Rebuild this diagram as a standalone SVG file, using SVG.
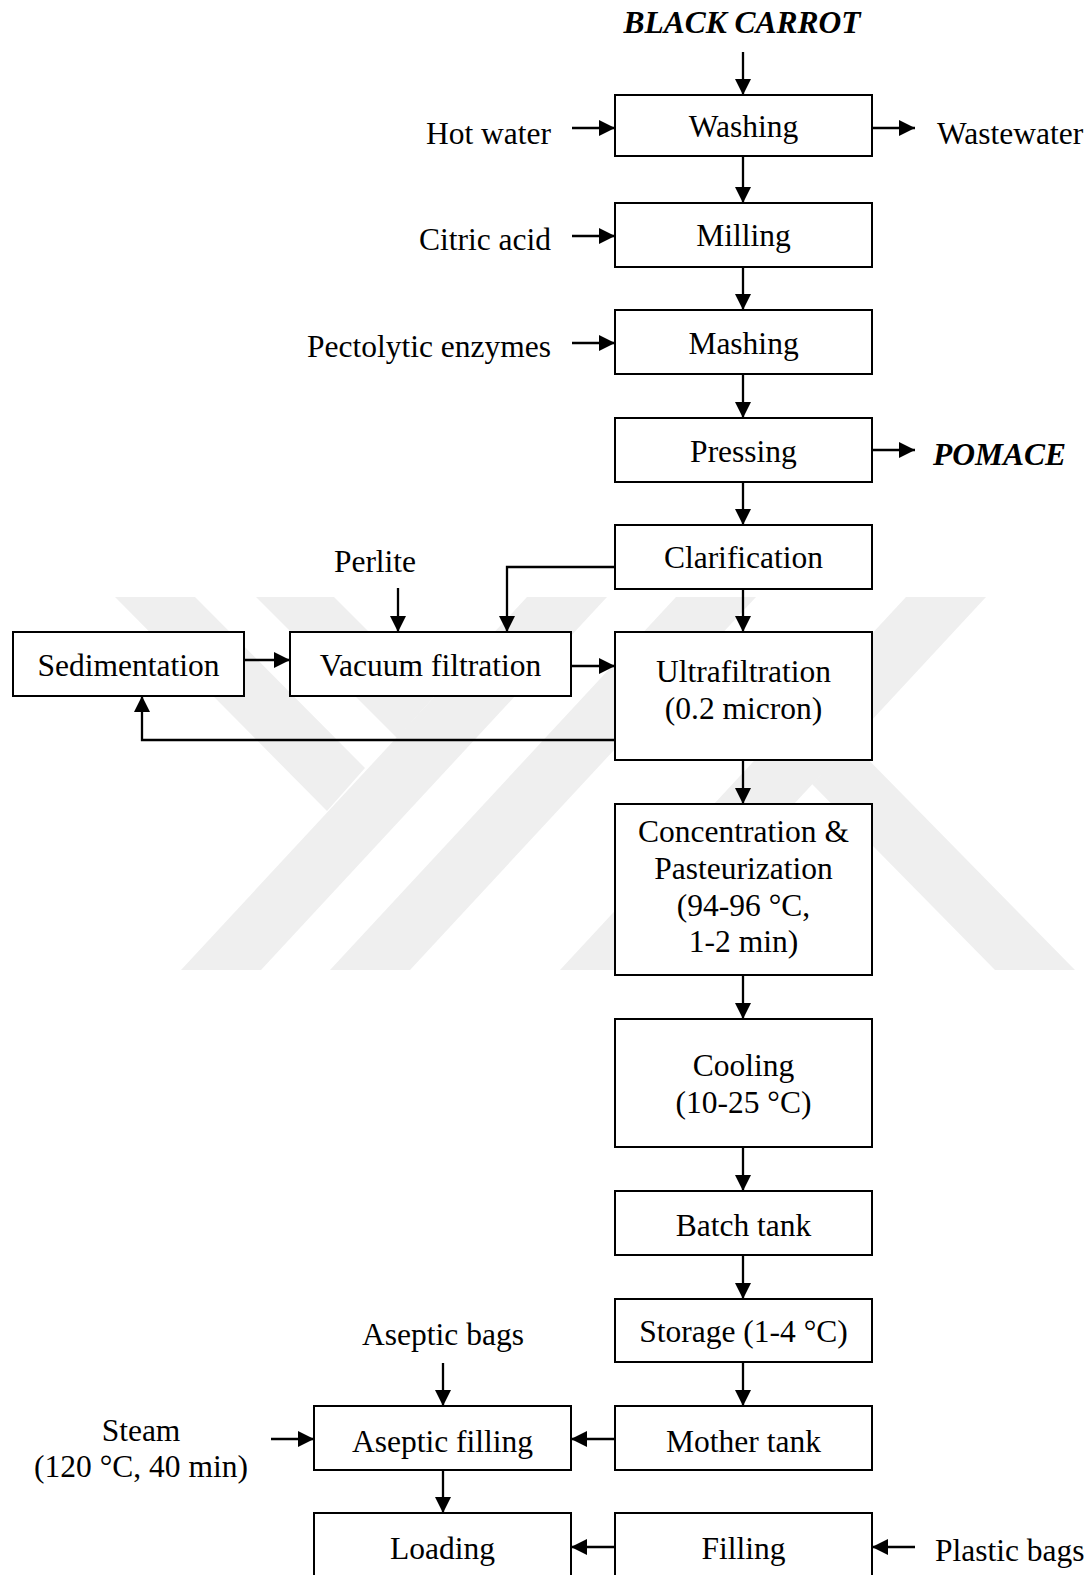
<svg xmlns="http://www.w3.org/2000/svg" width="1092" height="1575" viewBox="0 0 1092 1575">
<style>
  text { font-family: "Liberation Serif", "Times New Roman", serif; font-size: 31.5px; fill: #000; }
  .c { text-anchor: middle; }
  .r { text-anchor: end; }
  .bi { font-weight: bold; font-style: italic; }
  .box { fill: #fff; stroke: #000; stroke-width: 2; }
  .wm { fill: #efefef; }
  #connectors path, #connectors line { stroke: #000; stroke-width: 2.3; fill: none; }
</style>
<defs>
  <marker id="ah" markerUnits="userSpaceOnUse" markerWidth="16" markerHeight="16" viewBox="0 0 16 16" refX="16" refY="8" orient="auto">
    <path d="M0,0 L16,8 L0,16 z" fill="#000"/>
  </marker>
  <clipPath id="wmclip"><rect x="0" y="597" width="1092" height="373"/></clipPath>
</defs>
<rect width="1092" height="1575" fill="#fff"/>
<g id="watermark" clip-path="url(#wmclip)">
  <polygon class="wm" points="527,597 607,597 261,970 181,970"/>
  <polygon class="wm" points="676,597 756,597 410,970 330,970"/>
  <polygon class="wm" points="906,597 986,597 640,970 560,970"/>
  <polygon class="wm" points="115,597 195,597 365,768 327,811"/>
  <polygon class="wm" points="256,597 334,597 434,697 397,738"/>
  <polygon class="wm" points="812,784 851,742 1075,970 995,970"/>
</g>
<g id="connectors">
  <line x1="743" y1="52" x2="743" y2="95" marker-end="url(#ah)"/>
  <line x1="572" y1="128" x2="615" y2="128" marker-end="url(#ah)"/>
  <line x1="872" y1="128" x2="915" y2="128" marker-end="url(#ah)"/>
  <line x1="743" y1="156" x2="743" y2="203" marker-end="url(#ah)"/>
  <line x1="572" y1="236" x2="615" y2="236" marker-end="url(#ah)"/>
  <line x1="743" y1="267" x2="743" y2="310" marker-end="url(#ah)"/>
  <line x1="572" y1="343" x2="615" y2="343" marker-end="url(#ah)"/>
  <line x1="743" y1="374" x2="743" y2="418" marker-end="url(#ah)"/>
  <line x1="872" y1="450" x2="915" y2="450" marker-end="url(#ah)"/>
  <line x1="743" y1="482" x2="743" y2="525" marker-end="url(#ah)"/>
  <line x1="743" y1="589" x2="743" y2="632" marker-end="url(#ah)"/>
  <path d="M615,567 H507 V632" marker-end="url(#ah)"/>
  <line x1="398" y1="588" x2="398" y2="632" marker-end="url(#ah)"/>
  <line x1="244" y1="660" x2="290" y2="660" marker-end="url(#ah)"/>
  <line x1="571" y1="666" x2="615" y2="666" marker-end="url(#ah)"/>
  <path d="M615,740 H142 V696" marker-end="url(#ah)"/>
  <line x1="743" y1="760" x2="743" y2="804" marker-end="url(#ah)"/>
  <line x1="743" y1="975" x2="743" y2="1019" marker-end="url(#ah)"/>
  <line x1="743" y1="1147" x2="743" y2="1191" marker-end="url(#ah)"/>
  <line x1="743" y1="1255" x2="743" y2="1299" marker-end="url(#ah)"/>
  <line x1="743" y1="1362" x2="743" y2="1406" marker-end="url(#ah)"/>
  <line x1="443" y1="1363" x2="443" y2="1406" marker-end="url(#ah)"/>
  <line x1="271" y1="1439" x2="314" y2="1439" marker-end="url(#ah)"/>
  <line x1="615" y1="1439" x2="571" y2="1439" marker-end="url(#ah)"/>
  <line x1="443" y1="1470" x2="443" y2="1513" marker-end="url(#ah)"/>
  <line x1="615" y1="1547" x2="571" y2="1547" marker-end="url(#ah)"/>
  <line x1="915" y1="1547" x2="872" y2="1547" marker-end="url(#ah)"/>
</g>
<g id="labels">
  <text class="c bi" x="742" y="33">BLACK CARROT</text>
  <text class="r" x="551" y="144">Hot water</text>
  <text x="937" y="144">Wastewater</text>
  <text class="r" x="551" y="250">Citric acid</text>
  <text class="r" x="551" y="357">Pectolytic enzymes</text>
  <text class="bi" x="933" y="465">POMACE</text>
  <text class="c" x="375" y="572">Perlite</text>
  <text class="c" x="443" y="1345">Aseptic bags</text>
  <text class="c" x="141" y="1441">Steam</text>
  <text class="c" x="141" y="1477">(120 °C, 40 min)</text>
  <text x="935" y="1561">Plastic bags</text>
</g>
<g id="washing"><rect class="box" x="615" y="95" width="257" height="61"/><text class="c" x="743.5" y="137">Washing</text></g>
<g id="milling"><rect class="box" x="615" y="203" width="257" height="64"/><text class="c" x="743.5" y="246">Milling</text></g>
<g id="mashing"><rect class="box" x="615" y="310" width="257" height="64"/><text class="c" x="743.5" y="354">Mashing</text></g>
<g id="pressing"><rect class="box" x="615" y="418" width="257" height="64"/><text class="c" x="743.5" y="462">Pressing</text></g>
<g id="clarification"><rect class="box" x="615" y="525" width="257" height="64"/><text class="c" x="743.5" y="568">Clarification</text></g>
<g id="sedimentation"><rect class="box" x="13" y="632" width="231" height="64"/><text class="c" x="128.5" y="676">Sedimentation</text></g>
<g id="vacuum-filtration"><rect class="box" x="290" y="632" width="281" height="64"/><text class="c" x="430.5" y="676">Vacuum filtration</text></g>
<g id="ultrafiltration"><rect class="box" x="615" y="632" width="257" height="128"/><text class="c" x="743.5" y="682">Ultrafiltration</text><text class="c" x="743.5" y="719">(0.2 micron)</text></g>
<g id="concentration"><rect class="box" x="615" y="804" width="257" height="171"/><text class="c" x="743.5" y="842">Concentration &amp;</text><text class="c" x="743.5" y="879">Pasteurization</text><text class="c" x="743.5" y="916">(94-96 °C,</text><text class="c" x="743.5" y="952">1-2 min)</text></g>
<g id="cooling"><rect class="box" x="615" y="1019" width="257" height="128"/><text class="c" x="743.5" y="1076">Cooling</text><text class="c" x="743.5" y="1113">(10-25 °C)</text></g>
<g id="batch-tank"><rect class="box" x="615" y="1191" width="257" height="64"/><text class="c" x="743.5" y="1236">Batch tank</text></g>
<g id="storage"><rect class="box" x="615" y="1299" width="257" height="63"/><text class="c" x="743.5" y="1342">Storage (1-4 °C)</text></g>
<g id="mother-tank"><rect class="box" x="615" y="1406" width="257" height="64"/><text class="c" x="743.5" y="1452">Mother tank</text></g>
<g id="aseptic-filling"><rect class="box" x="314" y="1406" width="257" height="64"/><text class="c" x="442.5" y="1452">Aseptic filling</text></g>
<g id="loading"><rect class="box" x="314" y="1513" width="257" height="64"/><text class="c" x="442.5" y="1559">Loading</text></g>
<g id="filling"><rect class="box" x="615" y="1513" width="257" height="64"/><text class="c" x="743.5" y="1559">Filling</text></g>
</svg>
